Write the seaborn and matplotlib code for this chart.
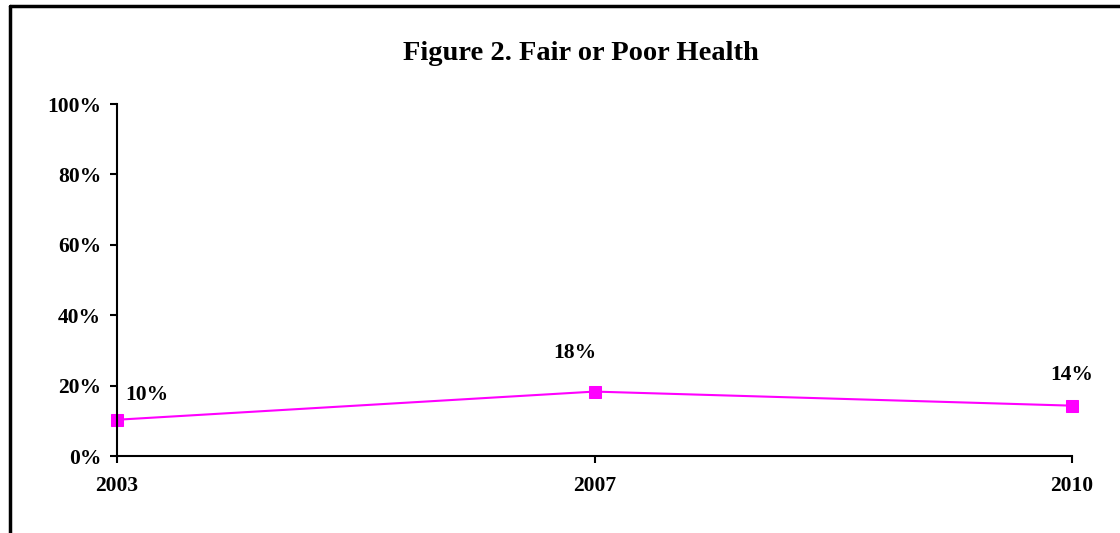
import matplotlib
matplotlib.use("Agg")
import matplotlib.pyplot as plt
import seaborn as sns
import pandas as pd
from matplotlib.lines import Line2D
from matplotlib.ticker import FuncFormatter

years = ["2003", "2007", "2010"]
fair_poor = [10.3, 18.3, 14.3]
labels = ["10%", "18%", "14%"]

sns.set_theme(style="white")
plt.rcParams['font.family'] = ['Liberation Serif', 'DejaVu Serif']
plt.rcParams['font.weight'] = 'bold'

W, H = 1120, 533
fig = plt.figure(figsize=(W / 100, H / 100), dpi=100)
ax = fig.add_axes([117 / W, 77 / H, (1072 - 117) / W, (456 - 104) / H])

df = pd.DataFrame({"x": range(len(years)), "v": fair_poor})
sns.lineplot(data=df, x="x", y="v", ax=ax, color="#FF00FF", linewidth=1.5,
             marker="s", markersize=8.5, markeredgecolor="#FF00FF", clip_on=False)

ax.set_xlim(0, len(years) - 1)
ax.set_ylim(0, 100)
ax.set_yticks(range(0, 101, 20))
ax.yaxis.set_major_formatter(FuncFormatter(lambda v, p: f"{int(v)}%"))
ax.set_xticks(range(len(years)))
ax.set_xticklabels(years)
ax.set_xlabel("")
ax.set_ylabel("")
for s in ["top", "right"]:
    ax.spines[s].set_visible(False)
for s in ["left", "bottom"]:
    ax.spines[s].set_color("black")
    ax.spines[s].set_linewidth(1.5)
ax.tick_params(axis="both", direction="out", length=5, width=1.5, color="black",
               left=True, bottom=True, labelsize=15.5, labelcolor="black")
ax.tick_params(axis="y", pad=6.5)
ax.tick_params(axis="x", pad=9.5)
for t in ax.get_xticklabels() + ax.get_yticklabels():
    t.set_fontweight("bold")

offsets = [(21.6, 18), (-14.4, 28), (0, 22.3)]
for i, (v, lab) in enumerate(zip(fair_poor, labels)):
    ax.annotate(lab, (i, v), xytext=offsets[i], textcoords="offset points",
                ha="center", va="center", fontsize=15.5, fontweight="bold", color="black",
                annotation_clip=False)

fig.text(581 / W, 1 - 54 / H, "Figure 2. Fair or Poor Health", ha="center", va="center",
         fontsize=20.5, fontweight="bold", color="black")

fig.add_artist(Line2D([10 / W, 1.0], [1 - 6 / H, 1 - 6 / H], transform=fig.transFigure,
                      color="black", linewidth=2.5))
fig.add_artist(Line2D([10 / W, 10 / W], [0, 1 - 6 / H], transform=fig.transFigure,
                      color="black", linewidth=2.5))

fig.savefig("out.png", dpi=100, facecolor="white")
